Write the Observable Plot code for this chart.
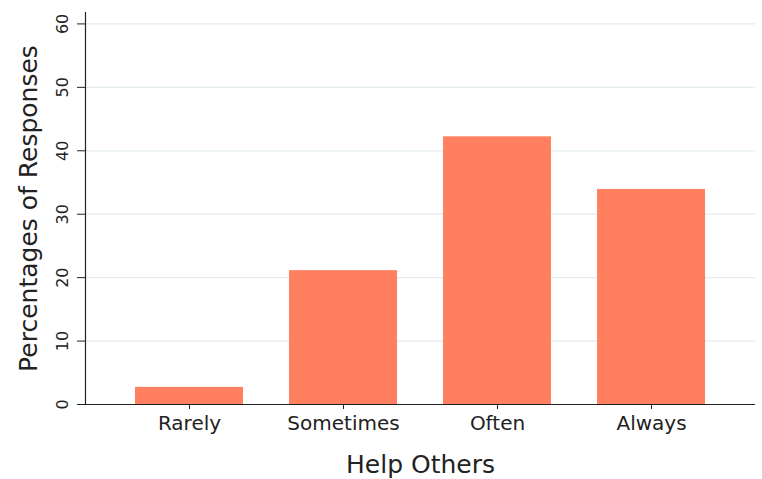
<!DOCTYPE html>
<html>
<head>
<meta charset="utf-8">
<script src="https://cdn.jsdelivr.net/npm/d3@7"></script>
<script src="https://cdn.jsdelivr.net/npm/@observablehq/plot@0.6"></script>
<style>
  html, body { margin: 0; padding: 0; background: #fff; }
  #chart svg { display: block; }
</style>
</head>
<body>
<div id="chart"></div>
<script>
// Survey responses for "Help Others"
const categories = ["Rarely", "Sometimes", "Often", "Always"];
const percentages = [2.7, 21.1, 42.2, 33.9];
const yTicks = [0, 10, 20, 30, 40, 50, 60];
const xTitle = "Help Others";
const yTitle = "Percentages of Responses";

const rows = categories.map((c, i) => ({category: c, pct: percentages[i]}));

const font = "'DejaVu Sans', sans-serif";
const ink = "#222";

const chart = Plot.plot({
  width: 762,
  height: 479,
  marginLeft: 85,
  marginRight: 7,
  marginTop: 12,
  marginBottom: 75,
  style: {fontFamily: font, color: ink, background: "#fff"},
  x: {domain: categories, paddingInner: 0.3, paddingOuter: 0.325, axis: null},
  y: {domain: [0, 61.8], axis: null},
  marks: [
    Plot.gridY(yTicks.filter(d => d > 0), {stroke: "#e3ecef", strokeOpacity: 1, strokeWidth: 1.2}),
    Plot.barY(rows, {x: "category", y: "pct", fill: "#ff7f5e"}),
    Plot.ruleY([0], {stroke: ink, strokeWidth: 1.2}),
    Plot.frame({anchor: "left", stroke: ink, strokeWidth: 1.2}),
    Plot.axisY({
      ticks: yTicks, tickSize: 8, tickPadding: 10, tickRotate: -90,
      fontSize: 16, label: null, stroke: ink, fill: ink
    }),
    Plot.axisX({
      tickSize: 5, tickPadding: 6, fontSize: 20, label: null, stroke: ink, fill: ink
    }),
    Plot.text([yTitle], {
      frameAnchor: "left", textAnchor: "middle", lineAnchor: "middle",
      dx: -57, rotate: -90, fontSize: 25, fill: ink
    }),
    Plot.text([xTitle], {
      frameAnchor: "bottom", lineAnchor: "bottom", dy: 68, fontSize: 25, fill: ink
    })
  ]
});

document.getElementById("chart").appendChild(chart);
</script>
</body>
</html>
